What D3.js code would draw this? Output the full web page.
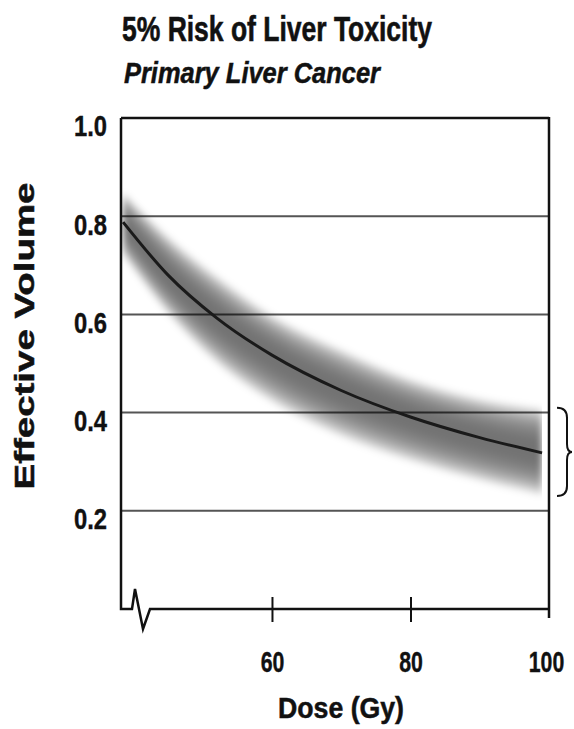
<!DOCTYPE html>
<html>
<head>
<meta charset="utf-8">
<script src="https://cdn.jsdelivr.net/npm/d3@7"></script>
<style>
  body { margin: 0; background: #fff; }
  text { font-family: "Liberation Sans", Arial, sans-serif; font-weight: bold; fill: #111; }
</style>
</head>
<body>
<svg id="chart" width="574" height="729"></svg>
<script>
// data
var dose  = [38.5, 45, 52, 60, 70, 80, 90, 99];
var vEff  = [0.788, 0.68, 0.593, 0.517, 0.445, 0.391, 0.349, 0.318];
var vHigh = [0.85, 0.76, 0.68, 0.60, 0.53, 0.47, 0.43, 0.41];
var vLow  = [0.72, 0.60, 0.50, 0.42, 0.35, 0.30, 0.26, 0.23];
var yTicks = [0.2, 0.4, 0.6, 0.8, 1.0];
var xTicks = [60, 80, 100];

var svg = d3.select("#chart");

var x = d3.scaleLinear().domain([38.2, 100]).range([121, 549]);
var y = d3.scaleLinear().domain([0, 1]).range([609, 118]);

var pts = dose.map(function(d, i) {
    return { d: d, v: vEff[i], hi: vHigh[i], lo: vLow[i] };
});

// no condensed font installed, so squeeze the glyphs horizontally
function squeeze(sel, f) {
    sel.each(function() {
        var t = d3.select(this);
        var x0 = +t.attr("x") || 0;
        t.attr("x", x0 / f).attr("transform", "scale(" + f + ",1)");
    });
}

// titles
svg.append("text").attr("x", 122).attr("y", 41)
    .attr("font-size", 35).attr("stroke", "#111").attr("stroke-width", 0.6)
    .attr("textLength", 310).attr("lengthAdjust", "spacingAndGlyphs")
    .text("5% Risk of Liver Toxicity");
svg.append("text").attr("x", 124).attr("y", 83)
    .attr("font-size", 29).attr("font-style", "italic")
    .attr("stroke", "#111").attr("stroke-width", 0.5)
    .attr("textLength", 256).attr("lengthAdjust", "spacingAndGlyphs")
    .text("Primary Liver Cancer");

// gridlines
svg.append("g").selectAll("line")
    .data(yTicks)
    .enter().append("line")
    .attr("x1", x.range()[0]).attr("x2", x.range()[1])
    .attr("y1", function(d){ return y(d); })
    .attr("y2", function(d){ return y(d); })
    .attr("stroke", function(d){ return d === 1 ? "#111" : "#555"; })
    .attr("stroke-width", function(d){ return d === 1 ? 2.5 : 2; });

// uncertainty band, stacked translucent layers
var defs = svg.append("defs");
defs.append("clipPath").attr("id", "bandClip")
    .append("rect")
    .attr("x", x(dose[0]) - 1).attr("y", 0)
    .attr("width", x(dose[dose.length - 1]) - x(dose[0]) + 1).attr("height", 729);
defs.append("filter").attr("id", "soft")
    .attr("x", "-10%").attr("y", "-10%").attr("width", "120%").attr("height", "120%")
    .append("feGaussianBlur").attr("stdDeviation", 3.5);

var band = svg.append("g").attr("clip-path", "url(#bandClip)")
    .append("g").attr("filter", "url(#soft)");
var layers = d3.range(1, 17);
band.selectAll("path")
    .data(layers)
    .enter().append("path")
    .attr("fill", "#000")
    .attr("fill-opacity", 0.05)
    .attr("d", function(k) {
        var f = Math.sqrt(k / layers.length);
        return d3.area()
            .x(function(p){ return x(p.d); })
            .y0(function(p){ return y(p.v - (p.v - p.lo) * f); })
            .y1(function(p){ return y(p.v + (p.hi - p.v) * f); })
            .curve(d3.curveMonotoneX)(pts);
    });

// central curve
svg.append("path")
    .datum(pts)
    .attr("fill", "none")
    .attr("stroke", "#1a1a1a")
    .attr("stroke-width", 3)
    .attr("d", d3.line()
        .x(function(p){ return x(p.d); })
        .y(function(p){ return y(p.v); })
        .curve(d3.curveMonotoneX));

// frame: left, right, bottom with axis break
var x0 = x.range()[0], x1 = x.range()[1], yb = y(0);
svg.append("path")
    .attr("fill", "none").attr("stroke", "#111").attr("stroke-width", 2.5)
    .attr("stroke-linejoin", "miter")
    .attr("d", "M" + x0 + "," + y(1) + "L" + x0 + "," + yb +
               "L" + (x0 + 11) + "," + yb +
               "L" + (x0 + 14) + "," + (yb - 20) +
               "L" + (x0 + 22) + "," + (yb + 20) +
               "L" + (x0 + 29) + "," + yb +
               "L" + x1 + "," + yb);
svg.append("line")
    .attr("x1", x1).attr("x2", x1).attr("y1", y(1) - 1).attr("y2", yb + 9)
    .attr("stroke", "#111").attr("stroke-width", 2.5);

// x axis
var xAxis = svg.append("g")
    .attr("transform", "translate(0," + yb + ")")
    .call(d3.axisBottom(x).tickValues(xTicks).tickSize(12).tickFormat(d3.format("d")));
xAxis.select(".domain").remove();
xAxis.selectAll(".tick line")
    .attr("y1", -12).attr("y2", 13)
    .attr("stroke", "#111").attr("stroke-width", 2)
    .filter(function(d){ return d === 100; }).remove();
xAxis.selectAll(".tick text")
    .attr("y", 63).attr("dy", 0)
    .attr("font-size", 30).attr("fill", "#111")
    .attr("stroke", "#111").attr("stroke-width", 0.4)
    .style("font-family", "'Liberation Sans', sans-serif").style("font-weight", "bold");
xAxis.selectAll(".tick text")
    .filter(function(d){ return d === 100; })
    .attr("x", -3);
xAxis.selectAll(".tick text").call(squeeze, 0.71);

// y axis labels
var yAxis = svg.append("g")
    .attr("transform", "translate(" + x0 + ",0)")
    .call(d3.axisLeft(y).tickValues(yTicks).tickSize(0).tickPadding(14).tickFormat(d3.format(".1f")));
yAxis.select(".domain").remove();
yAxis.selectAll(".tick text")
    .attr("dy", "0.62em")
    .attr("font-size", 29).attr("fill", "#111")
    .attr("stroke", "#111").attr("stroke-width", 0.4)
    .style("font-family", "'Liberation Sans', sans-serif").style("font-weight", "bold")
    .call(squeeze, 0.82);

// axis titles
svg.append("text")
    .attr("x", 341).attr("y", 718).attr("text-anchor", "middle")
    .attr("font-size", 29).attr("stroke", "#111").attr("stroke-width", 0.5)
    .attr("textLength", 126).attr("lengthAdjust", "spacingAndGlyphs")
    .text("Dose (Gy)");
svg.append("text")
    .attr("transform", "translate(34,336) rotate(-90)")
    .attr("text-anchor", "middle").attr("font-size", 28)
    .attr("stroke", "#111").attr("stroke-width", 0.5)
    .attr("textLength", 307).attr("lengthAdjust", "spacingAndGlyphs")
    .text("Effective Volume");

// brace spanning the band at the highest dose
var last = pts[pts.length - 1];
var bt = y(last.hi), bb = y(last.lo), bm = (bt + bb) / 2, bx = 557;
svg.append("path")
    .attr("fill", "none").attr("stroke", "#111").attr("stroke-width", 2)
    .attr("d", "M" + bx + "," + bt +
               "Q" + (bx + 10) + "," + bt + " " + (bx + 10) + "," + (bt + 10) +
               "L" + (bx + 10) + "," + (bm - 8) +
               "Q" + (bx + 10) + "," + bm + " " + (bx + 15) + "," + bm +
               "Q" + (bx + 10) + "," + bm + " " + (bx + 10) + "," + (bm + 8) +
               "L" + (bx + 10) + "," + (bb - 10) +
               "Q" + (bx + 10) + "," + bb + " " + bx + "," + bb);
</script>
</body>
</html>
